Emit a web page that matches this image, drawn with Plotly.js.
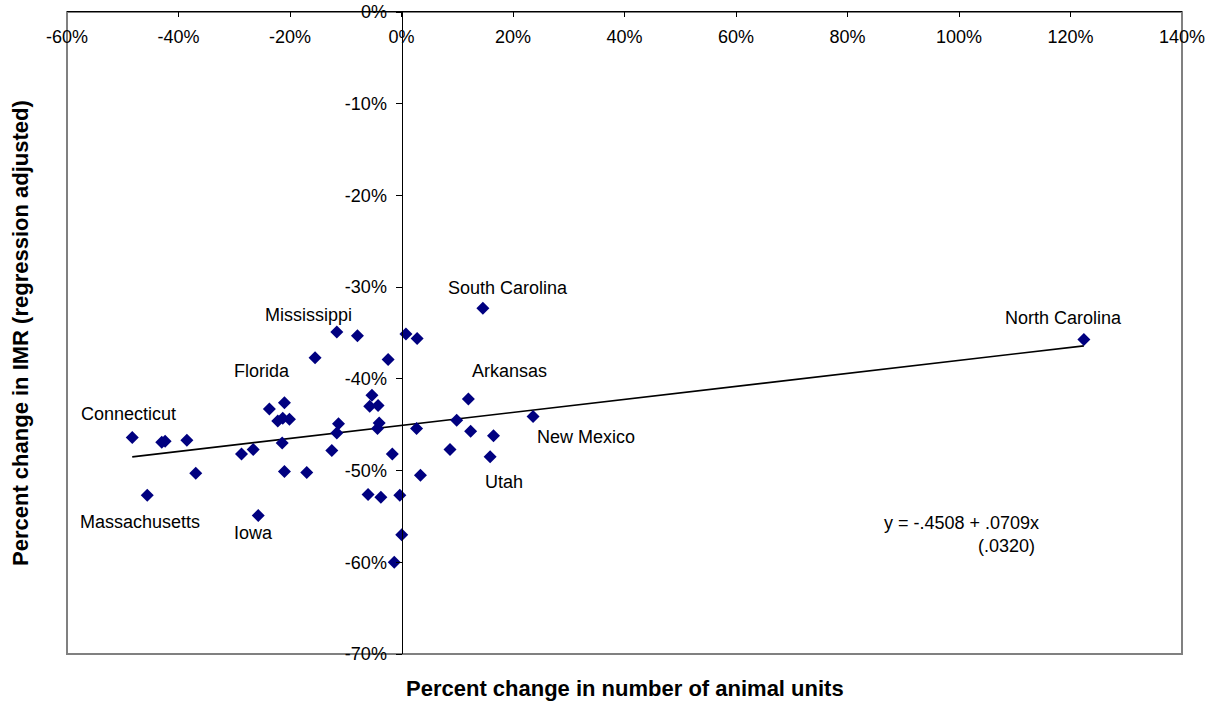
<!DOCTYPE html>
<html>
<head>
<meta charset="utf-8">
<script src="https://cdn.plot.ly/plotly-3.0.1.min.js"></script>
<style>html,body{margin:0;padding:0;background:#fff;}#chart{width:1213px;height:705px;}</style>
</head>
<body>
<div id="chart"></div>
<script>
// Percent change in number of animal units (x) and in IMR, regression adjusted (y), by state
var animalChange = [-48.3, -43.0, -42.4, -38.5, -45.6, -36.9, -28.7, -26.6, -25.7, -23.7,
  -21.0, -22.2, -21.3, -20.1, -21.4, -21.0, -17.0, -12.5, -11.3, -11.6,
  -5.3, -5.7, -4.2, -4.0, -4.3, -1.65, -6.0, -3.7, -0.3, 0.04,
  2.7, 3.4, -1.3, -11.6, -7.9, -15.5, -2.4, 0.8, 2.8, 14.6,
  9.9, 12.0, 12.4, 8.7, 16.5, 15.9, 23.6, 122.4];
var imrChange = [-46.4, -46.9, -46.8, -46.7, -52.7, -50.3, -48.2, -47.7, -54.9, -43.3,
  -42.6, -44.6, -44.3, -44.4, -47.0, -50.1, -50.2, -47.8, -44.9, -45.9,
  -41.8, -43.0, -42.9, -44.8, -45.4, -48.2, -52.6, -52.9, -52.7, -57.0,
  -45.4, -50.5, -60.0, -34.9, -35.3, -37.7, -37.9, -35.1, -35.6, -32.3,
  -44.5, -42.2, -45.7, -47.7, -46.2, -48.5, -44.1, -35.7];
var stateLabels = ["Connecticut", "", "", "", "Massachusetts", "", "", "", "Iowa", "Florida",
  "", "", "", "", "", "", "", "", "", "",
  "", "", "", "", "", "", "", "", "", "",
  "", "", "", "Mississippi", "", "", "", "", "", "South Carolina",
  "", "Arkansas", "", "", "", "Utah", "New Mexico", "North Carolina"];
var xTickVals = [-60, -40, -20, 0, 20, 40, 60, 80, 100, 120, 140];
var xTickText = ["-60%", "-40%", "-20%", "0%", "20%", "40%", "60%", "80%", "100%", "120%", "140%"];
var yTickVals = [0, -10, -20, -30, -40, -50, -60, -70];
var yTickText = ["0%", "-10%", "-20%", "-30%", "-40%", "-50%", "-60%", "-70%"];
var interceptPct = -45.08;   // y = -.4508 + .0709x
var slope = 0.0709;
var slopeSE = ".0320";

var FONT = "Liberation Sans, Arial, Helvetica, sans-serif";

var xMin = Math.min.apply(null, animalChange);
var xMax = Math.max.apply(null, animalChange);
var fitX = [xMin, xMax];
var fitY = fitX.map(function (v) { return interceptPct + slope * v; });

var labelOffsets = {
  "Connecticut": [-4, 24], "Massachusetts": [-7, -27], "Iowa": [-5, -17],
  "Florida": [-7, 38], "Mississippi": [-28, 17], "South Carolina": [25, 20],
  "Arkansas": [41, 28], "New Mexico": [53, -21], "Utah": [14, -25],
  "North Carolina": [-20, 21]
};

var annotations = [];
stateLabels.forEach(function (name, i) {
  if (!name) return;
  var off = labelOffsets[name] || [0, 20];
  annotations.push({
    x: animalChange[i], y: imrChange[i], xref: "x", yref: "y",
    text: name, showarrow: false, xshift: off[0], yshift: off[1],
    font: {family: FONT, size: 18, color: "#000"}
  });
});
annotations.push({
  xref: "paper", yref: "paper", x: 0.8735, y: 0.204, xanchor: "right", yanchor: "middle",
  text: "y = " + (interceptPct / 100).toFixed(4).replace("0.", ".") + " + " + slope.toFixed(4).replace("0.", ".") + "x",
  showarrow: false, font: {family: FONT, size: 18, color: "#000"}
});
annotations.push({
  xref: "paper", yref: "paper", x: 0.870, y: 0.168, xanchor: "right", yanchor: "middle",
  text: "(" + slopeSE + ")", showarrow: false, font: {family: FONT, size: 18, color: "#000"}
});
annotations.push({
  xref: "paper", yref: "paper", x: 0.5, y: -0.053, xanchor: "center", yanchor: "middle",
  text: "<b>Percent change in number of animal units</b>", showarrow: false,
  font: {family: FONT, size: 22, color: "#000"}
});
annotations.push({
  xref: "paper", yref: "paper", x: -0.0422, y: 0.5, xanchor: "center", yanchor: "middle",
  textangle: -90, text: "<b>Percent change in IMR (regression adjusted)</b>", showarrow: false,
  font: {family: FONT, size: 22, color: "#000"}
});

var traces = [
  {
    x: fitX, y: fitY, type: "scatter", mode: "lines",
    line: {color: "#000", width: 1.6}, hoverinfo: "skip", showlegend: false
  },
  {
    x: animalChange, y: imrChange, text: stateLabels, type: "scatter", mode: "markers",
    marker: {symbol: "diamond", size: 10, color: "#000080"}, showlegend: false
  }
];

var layout = {
  width: 1213, height: 705,
  margin: {l: 67, r: 31, t: 12, b: 51},
  paper_bgcolor: "#fff", plot_bgcolor: "#fff",
  font: {family: FONT, size: 18, color: "#000"},
  showlegend: false,
  xaxis: {
    range: [-60, 140], side: "top", tickmode: "array", tickvals: xTickVals, ticktext: xTickText,
    ticks: "inside", ticklen: 5, tickcolor: "#000", ticklabelposition: "inside",
    ticklabeloverflow: "allow", ticklabelstandoff: 14,
    showline: true, linecolor: "#000", linewidth: 1.2,
    showgrid: false, zeroline: false,
    tickfont: {family: FONT, size: 18, color: "#000"}
  },
  yaxis: {
    range: [-70, 0], anchor: "free", position: 0.3, tickmode: "array", tickvals: yTickVals, ticktext: yTickText,
    ticks: "outside", ticklen: 6, tickcolor: "#000", ticklabelstandoff: 5,
    showline: true, linecolor: "#000", linewidth: 1.2,
    showgrid: false, zeroline: false,
    tickfont: {family: FONT, size: 18, color: "#000"}
  },
  shapes: [{
    type: "rect", xref: "paper", yref: "paper", x0: 0, x1: 1, y0: 0, y1: 1,
    line: {color: "#808080", width: 2}, layer: "below"
  }],
  annotations: annotations
};

Plotly.newPlot("chart", traces, layout, {displayModeBar: false, staticPlot: true});
</script>
</body>
</html>
